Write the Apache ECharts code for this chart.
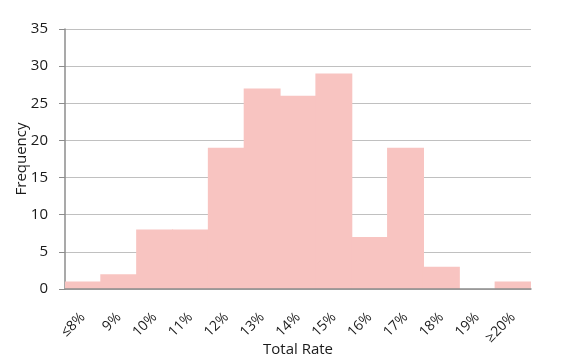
<!DOCTYPE html>
<html><head><meta charset="utf-8">
<script src="https://cdn.jsdelivr.net/npm/echarts@6/dist/echarts.min.js"></script>
<style>html,body{margin:0;padding:0;background:#fff}#c{width:575px;height:361px}</style>
</head><body><div id="c"></div>
<script>
const categories = ['≤8%','9%','10%','11%','12%','13%','14%','15%','16%','17%','18%','19%','≥20%'];
const frequency = [1,2,8,8,19,27,26,29,7,19,3,0,1];
const yTicks = {min:0, max:35, interval:5};
const chart = echarts.init(document.getElementById('c'));
const font = '"Open Sans", "Noto Sans", sans-serif';
chart.setOption({
  animation:false,
  textStyle:{fontFamily:font},
  grid:{left:65,right:44,top:29,bottom:72,containLabel:false,outerBoundsMode:'none'},
  xAxis:{type:'category',data:categories,z:5,
    name:'Total Rate',nameLocation:'middle',nameGap:53,nameMoveOverlap:false,
    nameTextStyle:{fontFamily:font,fontSize:15,color:'#1a1a1a'},
    axisLine:{lineStyle:{color:'#8c8c8c',width:1.5}},
    axisTick:{show:false},
    axisLabel:{rotate:45,fontFamily:font,fontSize:14,color:'#1a1a1a',margin:26,interval:0}},
  yAxis:{type:'value',min:yTicks.min,max:yTicks.max,interval:yTicks.interval,
    name:'Frequency',nameLocation:'middle',nameGap:37,nameMoveOverlap:false,
    nameTextStyle:{fontFamily:font,fontSize:15,color:'#1a1a1a',lineHeight:12,padding:0},
    axisLine:{show:true,lineStyle:{color:'#8c8c8c',width:1.5}},
    axisTick:{show:true,length:6,lineStyle:{color:'#8c8c8c'}},
    axisLabel:{fontFamily:font,fontSize:15,color:'#1a1a1a',margin:17},
    splitLine:{lineStyle:{color:'#c0c0c0',width:1}}},
  series:[{type:'bar',data:frequency,barWidth:'103%',
    itemStyle:{color:'#f8c4c1'}}]
});
</script></body></html>
